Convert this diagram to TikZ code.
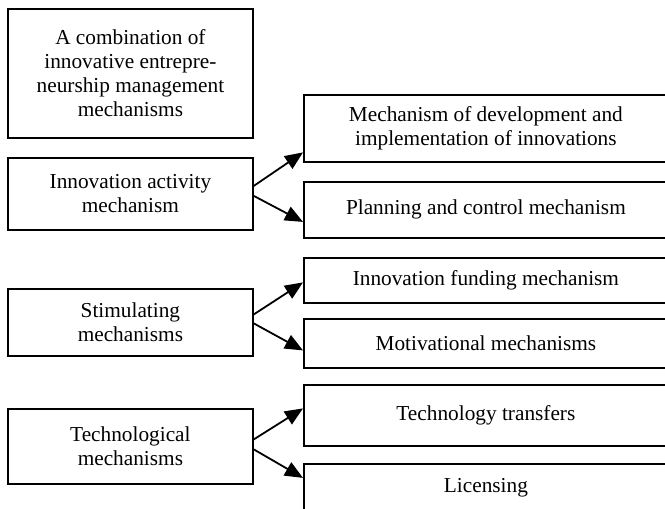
\documentclass[tikz,border=0pt]{standalone}
\usepackage{fontspec}
\setmainfont{Liberation Serif}
\usepackage{tikz}
\usetikzlibrary{arrows.meta}

\begin{document}
\begin{tikzpicture}[
		%Global config
		x=1pt, y=-1pt,
		>={Triangle[length=18pt,width=15pt]},
		line width=1.8pt,
		color = black,
		font=\fontsize{21.3}{24}\selectfont,
		%Styles
		MechBox/.style={
			draw,
			align=center,
			inner sep=0pt,
			minimum width=245pt,
			anchor=north west,
		},
		SubBox/.style={
			draw,
			align=center,
			inner sep=0pt,
			minimum width=364pt,
			anchor=north west,
		},
		Link/.style={
			->,
			line width=1.8pt,
		}
		]
		
		\useasboundingbox (0,0) rectangle (665,509);
		\clip (0,0) rectangle (665,509);
		
		% Left column
		\node[MechBox, minimum height=129pt] (combo) at (7,8) {A combination of\\innovative entrepre-\\neurship management\\mechanisms};
		\node[MechBox, minimum height=72pt] (activity) at (7,157) {Innovation activity\\mechanism};
		\node[MechBox, minimum height=67pt] (stim) at (7,288) {Stimulating\\mechanisms};
		\node[MechBox, minimum height=75pt] (tech) at (7,408) {Technological\\mechanisms};
		
		% Right column
		\node[SubBox, minimum height=67pt] (develop) at (303,94) {Mechanism of development and\\implementation of innovations};
		\node[SubBox, minimum height=56pt] (plan) at (303,181) {Planning and control mechanism};
		\node[SubBox, minimum height=45pt] (funding) at (303,257) {Innovation funding mechanism};
		\node[SubBox, minimum height=49pt] (motiv) at (303,318) {Motivational mechanisms};
		\node[SubBox, minimum height=61pt] (transfer) at (303,384) {Technology transfers};
		\node[SubBox, minimum height=60pt, text depth=16pt] (licence) at (303,463) {Licensing};
		
		% Arrows
		\draw[Link] ([yshift=8pt]activity.east) -- ([yshift=-24pt]develop.west);
		\draw[Link] ([yshift=-2pt]activity.east) -- ([yshift=-12pt]plan.west);
		\draw[Link] ([yshift=8pt]stim.east) -- ([yshift=-2pt]funding.west);
		\draw[Link] ([yshift=-1pt]stim.east) -- ([yshift=-7pt]motiv.west);
		\draw[Link] ([yshift=7pt]tech.east) -- ([yshift=7pt]transfer.west);
		\draw[Link] ([yshift=-3pt]tech.east) -- ([yshift=16pt]licence.west);
	\end{tikzpicture}
\end{document}
